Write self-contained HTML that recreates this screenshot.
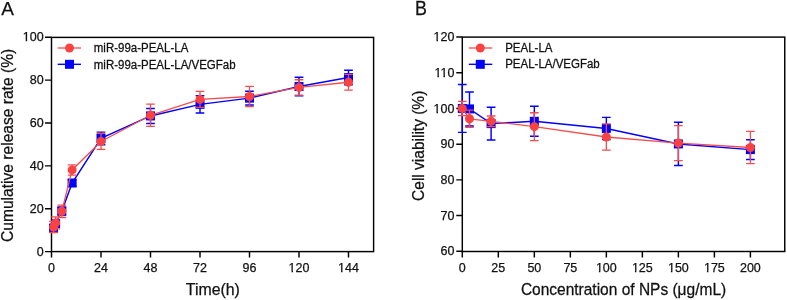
<!DOCTYPE html>
<html><head><meta charset="utf-8"><style>
html,body{margin:0;padding:0;background:#fff;}
body{width:787px;height:300px;overflow:hidden;}
svg{display:block;will-change:transform;}
text{font-family:"Liberation Sans", sans-serif;fill:#111;stroke:#111;stroke-width:0.25px;}
</style></head><body>
<svg width="787" height="300" viewBox="0 0 787 300">
<rect x="51.5" y="37.4" width="322.1" height="214.2" fill="none" stroke="#000" stroke-width="1.45"/>
<rect x="462.3" y="37.1" width="322.45" height="214.4" fill="none" stroke="#000" stroke-width="1.45"/>
<text x="43.6" y="255.7" text-anchor="end" font-size="12.5">0</text>
<text x="43.6" y="212.83" text-anchor="end" font-size="12.5">20</text>
<text x="43.6" y="169.96" text-anchor="end" font-size="12.5">40</text>
<text x="43.6" y="127.09" text-anchor="end" font-size="12.5">60</text>
<text x="43.6" y="84.22" text-anchor="end" font-size="12.5">80</text>
<text x="43.6" y="41.35" text-anchor="end" font-size="12.5">100</text>
<text x="51.5" y="271.7" text-anchor="middle" font-size="12.5">0</text>
<text x="101" y="271.7" text-anchor="middle" font-size="12.5">24</text>
<text x="150.5" y="271.7" text-anchor="middle" font-size="12.5">48</text>
<text x="200" y="271.7" text-anchor="middle" font-size="12.5">72</text>
<text x="249.5" y="271.7" text-anchor="middle" font-size="12.5">96</text>
<text x="299" y="271.7" text-anchor="middle" font-size="12.5">120</text>
<text x="348.5" y="271.7" text-anchor="middle" font-size="12.5">144</text>
<text x="454.4" y="255.4" text-anchor="end" font-size="12.5">60</text>
<text x="454.4" y="219.68" text-anchor="end" font-size="12.5">70</text>
<text x="454.4" y="183.97" text-anchor="end" font-size="12.5">80</text>
<text x="454.4" y="148.25" text-anchor="end" font-size="12.5">90</text>
<text x="454.4" y="112.53" text-anchor="end" font-size="12.5">100</text>
<text x="454.4" y="76.82" text-anchor="end" font-size="12.5">110</text>
<text x="454.4" y="41.1" text-anchor="end" font-size="12.5">120</text>
<text x="462.3" y="271.7" text-anchor="middle" font-size="12.5">0</text>
<text x="498.31" y="271.7" text-anchor="middle" font-size="12.5">25</text>
<text x="534.33" y="271.7" text-anchor="middle" font-size="12.5">50</text>
<text x="570.34" y="271.7" text-anchor="middle" font-size="12.5">75</text>
<text x="606.35" y="271.7" text-anchor="middle" font-size="12.5">100</text>
<text x="642.36" y="271.7" text-anchor="middle" font-size="12.5">125</text>
<text x="678.38" y="271.7" text-anchor="middle" font-size="12.5">150</text>
<text x="714.39" y="271.7" text-anchor="middle" font-size="12.5">175</text>
<text x="750.4" y="271.7" text-anchor="middle" font-size="12.5">200</text>
<rect x="22.44" y="39.95" width="3.27" height="2.1" fill="#fff"/>
<rect x="27.17" y="39.95" width="2.68" height="2.1" fill="#fff"/>
<rect x="288.27" y="270.95" width="3.27" height="2.1" fill="#fff"/>
<rect x="293" y="270.95" width="2.68" height="2.1" fill="#fff"/>
<rect x="337.77" y="270.95" width="3.27" height="2.1" fill="#fff"/>
<rect x="342.5" y="270.95" width="2.68" height="2.1" fill="#fff"/>
<rect x="433.24" y="111.95" width="3.27" height="2.1" fill="#fff"/>
<rect x="437.97" y="111.95" width="2.68" height="2.1" fill="#fff"/>
<rect x="434.17" y="75.95" width="3.27" height="2.1" fill="#fff"/>
<rect x="438.9" y="75.95" width="2.68" height="2.1" fill="#fff"/>
<rect x="440.2" y="75.95" width="3.27" height="2.1" fill="#fff"/>
<rect x="444.92" y="75.95" width="2.68" height="2.1" fill="#fff"/>
<rect x="433.24" y="39.95" width="3.27" height="2.1" fill="#fff"/>
<rect x="437.97" y="39.95" width="2.68" height="2.1" fill="#fff"/>
<rect x="595.62" y="270.95" width="3.27" height="2.1" fill="#fff"/>
<rect x="600.35" y="270.95" width="2.68" height="2.1" fill="#fff"/>
<rect x="631.63" y="270.95" width="3.27" height="2.1" fill="#fff"/>
<rect x="636.36" y="270.95" width="2.68" height="2.1" fill="#fff"/>
<rect x="667.65" y="270.95" width="3.27" height="2.1" fill="#fff"/>
<rect x="672.37" y="270.95" width="2.68" height="2.1" fill="#fff"/>
<rect x="703.66" y="270.95" width="3.27" height="2.1" fill="#fff"/>
<rect x="708.38" y="270.95" width="2.68" height="2.1" fill="#fff"/>
<path d="M45 251.6H51.5 M45 208.73H51.5 M45 165.86H51.5 M45 122.99H51.5 M45 80.12H51.5 M45 37.25H51.5 M51.5 251.6V257.6 M101 251.6V257.6 M150.5 251.6V257.6 M200 251.6V257.6 M249.5 251.6V257.6 M299 251.6V257.6 M348.5 251.6V257.6 M456.3 251.3H462.3 M456.3 215.58H462.3 M456.3 179.87H462.3 M456.3 144.15H462.3 M456.3 108.43H462.3 M456.3 72.72H462.3 M456.3 37H462.3 M462.3 251.5V257.4 M498.31 251.5V257.4 M534.33 251.5V257.4 M570.34 251.5V257.4 M606.35 251.5V257.4 M642.36 251.5V257.4 M678.38 251.5V257.4 M714.39 251.5V257.4 M750.4 251.5V257.4" stroke="#000" stroke-width="1.45" fill="none"/>
<text x="212.85" y="294.9" text-anchor="middle" font-size="15.9">Time(h)</text>
<text transform="translate(623.52 295.1) scale(1 1.07)" text-anchor="middle" font-size="15.5">Concentration of NPs (μg/mL)</text>
<text transform="translate(12.9 145.4) rotate(-90) scale(1 1.07)" text-anchor="middle" font-size="15.6">Cumulative release rate (%)</text>
<text transform="translate(424.1 145.8) rotate(-90) scale(1 1.07)" text-anchor="middle" font-size="15.5">Cell viability (%)</text>
<text x="1.2" y="14.8" font-size="19">A</text>
<text transform="translate(414.9 15) scale(0.94 1.04)" font-size="19">B</text>
<path d="M53.56 228.02 L55.62 223.73 L61.81 211.09 L72.12 183.01 L101 138.42 L150.5 115.92 L200 104.34 L249.5 98.13 L299 86.55 L348.5 77.55" stroke="#0000ff" stroke-width="1.45" fill="none"/>
<path d="M53.56 224.81V231.24 M49.21 224.81H57.91 M49.21 231.24H57.91 M55.62 220.52V226.95 M51.27 220.52H59.98 M51.27 226.95H59.98 M61.81 207.23V214.95 M57.46 207.23H66.16 M57.46 214.95H66.16 M72.12 179.79V186.22 M67.78 179.79H76.47 M67.78 186.22H76.47 M101 132.12V144.73 M96.65 132.12H105.35 M96.65 144.73H105.35 M150.5 108.41V123.42 M146.15 108.41H154.85 M146.15 123.42H154.85 M200 95.77V112.92 M195.65 95.77H204.35 M195.65 112.92H204.35 M249.5 91.33V104.92 M245.15 91.33H253.85 M245.15 104.92H253.85 M299 77.25V95.85 M294.65 77.25H303.35 M294.65 95.85H303.35 M348.5 70.26V84.84 M344.15 70.26H352.85 M344.15 84.84H352.85" stroke="#0000ff" stroke-width="1.45" fill="none"/>
<rect x="49.06" y="223.52" width="9" height="9" fill="#0000ff"/>
<rect x="51.12" y="219.23" width="9" height="9" fill="#0000ff"/>
<rect x="57.31" y="206.59" width="9" height="9" fill="#0000ff"/>
<rect x="67.62" y="178.51" width="9" height="9" fill="#0000ff"/>
<rect x="96.5" y="133.92" width="9" height="9" fill="#0000ff"/>
<rect x="146" y="111.42" width="9" height="9" fill="#0000ff"/>
<rect x="195.5" y="99.84" width="9" height="9" fill="#0000ff"/>
<rect x="245" y="93.63" width="9" height="9" fill="#0000ff"/>
<rect x="294.5" y="82.05" width="9" height="9" fill="#0000ff"/>
<rect x="344" y="73.05" width="9" height="9" fill="#0000ff"/>
<path d="M53.56 226.95 L55.62 222.88 L61.81 211.3 L72.12 169.93 L101 141.42 L150.5 115.27 L200 99.41 L249.5 96.5 L299 87.41 L348.5 82.26" stroke="#f54d4d" stroke-width="1.3" fill="none"/>
<path d="M53.56 221.38V232.52 M49.21 221.38H57.91 M49.21 232.52H57.91 M55.62 216.88V228.88 M51.27 216.88H59.98 M51.27 228.88H59.98 M61.81 205.09V217.52 M57.46 205.09H66.16 M57.46 217.52H66.16 M72.12 164.79V175.08 M67.78 164.79H76.47 M67.78 175.08H76.47 M101 133.43V149.42 M96.65 133.43H105.35 M96.65 149.42H105.35 M150.5 104.21V126.33 M146.15 104.21H154.85 M146.15 126.33H154.85 M200 91.42V107.41 M195.65 91.42H204.35 M195.65 107.41H204.35 M249.5 86.4V106.59 M245.15 86.4H253.85 M245.15 106.59H253.85 M299 79.76V95.06 M294.65 79.76H303.35 M294.65 95.06H303.35 M348.5 74.33V90.19 M344.15 74.33H352.85 M344.15 90.19H352.85" stroke="#f54d4d" stroke-width="1.3" fill="none"/>
<circle cx="53.56" cy="226.95" r="4.5" fill="#fa4242"/>
<circle cx="55.62" cy="222.88" r="4.5" fill="#fa4242"/>
<circle cx="61.81" cy="211.3" r="4.5" fill="#fa4242"/>
<circle cx="72.12" cy="169.93" r="4.5" fill="#fa4242"/>
<circle cx="101" cy="141.42" r="4.5" fill="#fa4242"/>
<circle cx="150.5" cy="115.27" r="4.5" fill="#fa4242"/>
<circle cx="200" cy="99.41" r="4.5" fill="#fa4242"/>
<circle cx="249.5" cy="96.5" r="4.5" fill="#fa4242"/>
<circle cx="299" cy="87.41" r="4.5" fill="#fa4242"/>
<circle cx="348.5" cy="82.26" r="4.5" fill="#fa4242"/>
<path d="M462.3 108.43 L469.5 108.93 L491.11 123.61 L534.33 121.29 L606.35 128.43 L678.38 143.93 L750.4 149.61" stroke="#0000ff" stroke-width="1.45" fill="none"/>
<path d="M462.3 84.5V132.36 M457.95 84.5H466.65 M457.95 132.36H466.65 M469.5 91.93V125.93 M465.15 91.93H473.85 M465.15 125.93H473.85 M491.11 107.22V140.01 M486.76 107.22H495.46 M486.76 140.01H495.46 M534.33 106.32V136.26 M529.98 106.32H538.68 M529.98 136.26H538.68 M606.35 117.36V139.51 M602 117.36H610.7 M602 139.51H610.7 M678.38 122.33V165.54 M674.02 122.33H682.73 M674.02 165.54H682.73 M750.4 139.72V159.51 M746.05 139.72H754.75 M746.05 159.51H754.75" stroke="#0000ff" stroke-width="1.45" fill="none"/>
<rect x="457.8" y="103.93" width="9" height="9" fill="#0000ff"/>
<rect x="465" y="104.43" width="9" height="9" fill="#0000ff"/>
<rect x="486.61" y="119.11" width="9" height="9" fill="#0000ff"/>
<rect x="529.83" y="116.79" width="9" height="9" fill="#0000ff"/>
<rect x="601.85" y="123.93" width="9" height="9" fill="#0000ff"/>
<rect x="673.88" y="139.43" width="9" height="9" fill="#0000ff"/>
<rect x="745.9" y="145.11" width="9" height="9" fill="#0000ff"/>
<path d="M462.3 108.43 L469.5 118.79 L491.11 121.36 L534.33 126.65 L606.35 137.01 L678.38 143.08 L750.4 147.51" stroke="#f54d4d" stroke-width="1.3" fill="none"/>
<path d="M462.3 101.29V115.58 M457.95 101.29H466.65 M457.95 115.58H466.65 M469.5 110.22V127.36 M465.15 110.22H473.85 M465.15 127.36H473.85 M491.11 116V126.72 M486.76 116H495.46 M486.76 126.72H495.46 M534.33 112.75V140.54 M529.98 112.75H538.68 M529.98 140.54H538.68 M606.35 123.86V150.15 M602 123.86H610.7 M602 150.15H610.7 M678.38 125.61V160.54 M674.02 125.61H682.73 M674.02 160.54H682.73 M750.4 131.29V163.72 M746.05 131.29H754.75 M746.05 163.72H754.75" stroke="#f54d4d" stroke-width="1.3" fill="none"/>
<circle cx="462.3" cy="108.43" r="4.5" fill="#fa4242"/>
<circle cx="469.5" cy="118.79" r="4.5" fill="#fa4242"/>
<circle cx="491.11" cy="121.36" r="4.5" fill="#fa4242"/>
<circle cx="534.33" cy="126.65" r="4.5" fill="#fa4242"/>
<circle cx="606.35" cy="137.01" r="4.5" fill="#fa4242"/>
<circle cx="678.38" cy="143.08" r="4.5" fill="#fa4242"/>
<circle cx="750.4" cy="147.51" r="4.5" fill="#fa4242"/>
<path d="M57.7 48H81" stroke="#f54d4d" stroke-width="1.3"/>
<circle cx="69.5" cy="48" r="4.5" fill="#fa4242"/>
<path d="M57.7 64.3H81" stroke="#0000ff" stroke-width="1.4"/>
<rect x="65" y="59.8" width="9" height="9" fill="#0000ff"/>
<text transform="translate(93.8 52.2) scale(1 1.1)" font-size="11.5">miR-99a-PEAL-LA</text>
<text transform="translate(93.8 68.6) scale(1 1.1)" font-size="11.5">miR-99a-PEAL-LA/VEGFab</text>
<path d="M468.8 48H492.3" stroke="#f54d4d" stroke-width="1.3"/>
<circle cx="480.3" cy="48" r="4.5" fill="#fa4242"/>
<path d="M468.8 64.3H492.3" stroke="#0000ff" stroke-width="1.4"/>
<rect x="475.8" y="59.8" width="9" height="9" fill="#0000ff"/>
<text transform="translate(505.2 51.9) scale(1 1.1)" font-size="11.5">PEAL-LA</text>
<text transform="translate(505.2 68.4) scale(1 1.1)" font-size="11.5">PEAL-LA/VEGFab</text>
</svg>
</body></html>
